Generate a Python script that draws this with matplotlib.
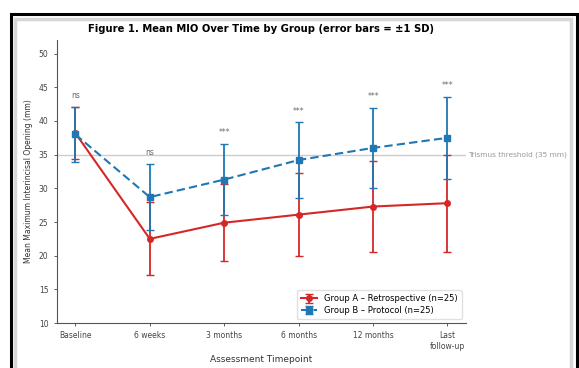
import matplotlib
matplotlib.use('agg')
import matplotlib.pyplot as plt
from matplotlib.patches import Rectangle

# Data
timepoints = ['Baseline', '6 weeks', '3 months', '6 months', '12 months', 'Last\nfollow-up']
group_a_mean = [38.2, 22.5, 24.9, 26.1, 27.3, 27.8]
group_a_sd = [3.8, 5.4, 5.7, 6.2, 6.8, 7.2]
group_b_mean = [38.0, 28.7, 31.3, 34.2, 36.0, 37.5]
group_b_sd = [4.1, 4.9, 5.3, 5.6, 5.9, 6.1]
sig_labels = ['ns', 'ns', '***', '***', '***', '***']
threshold = 35

fig = plt.figure(figsize=(5.79, 3.68), dpi=100)
ax = fig.add_axes([0.098, 0.122, 0.707, 0.769])

x = list(range(len(timepoints)))

ax.axhline(threshold, color='#cccccc', lw=1, zorder=1)
ax.text(5.27, threshold, 'Trismus threshold (35 mm)', fontsize=5.3, color='#999999',
        va='center', ha='left', clip_on=False)

ax.errorbar(x, group_a_mean, yerr=group_a_sd, color='#d62728', marker='o', ms=4,
            lw=1.5, elinewidth=1.3, capsize=3, capthick=1, ls='-',
            label='Group A \u2013 Retrospective (n=25)', zorder=3)
ax.errorbar(x, group_b_mean, yerr=group_b_sd, color='#1f77b4', marker='s', ms=4.5,
            lw=1.5, elinewidth=1.3, capsize=3, capthick=1, ls='--', dashes=(4, 2),
            label='Group B \u2013 Protocol (n=25)', zorder=4)

# significance marks above the upper error bar
for xi, m, s, lab in zip(x, group_b_mean, group_b_sd, sig_labels):
    top = max(m + s, group_a_mean[xi] + group_a_sd[xi])
    ax.text(xi, top + 1.0, lab, fontsize=5.5, color='#666666', ha='center', va='bottom')

ax.set_xlim(-0.25, 5.25)
ax.set_ylim(10, 52)
ax.set_yticks(range(10, 51, 5))
ax.set_xticks(x)
ax.set_xticklabels(timepoints)
ax.tick_params(labelsize=5.5, length=2.5, width=0.6, colors='#444444')
for side in ['top', 'right']:
    ax.spines[side].set_visible(False)
for side in ['left', 'bottom']:
    ax.spines[side].set_linewidth(0.8)
    ax.spines[side].set_color('#555555')

ax.set_xlabel('Assessment Timepoint', fontsize=6.5, color='#333333', labelpad=3)
ax.set_ylabel('Mean Maximum Interincisal Opening (mm)', fontsize=5.5, color='#333333', labelpad=4)
ax.set_title('Figure 1. Mean MIO Over Time by Group (error bars = \u00b11 SD)',
             fontsize=7.2, fontweight='bold', pad=6)

ax.legend(loc='lower right', fontsize=6, frameon=True, framealpha=0.9,
          edgecolor='#dddddd', handlelength=2.0, borderpad=0.5, labelspacing=0.3)

# page frame around the figure
fig.patches.append(Rectangle((11 / 579, -0.05), 566 / 579, 1.05 - 14 / 368,
                             transform=fig.transFigure, fill=False,
                             edgecolor='black', lw=2.2, zorder=0))
fig.patches.append(Rectangle((15 / 579, -0.05), 556 / 579, 1.05 - 19 / 368,
                             transform=fig.transFigure, fill=False,
                             edgecolor='#bbbbbb', lw=2.5, alpha=0.6, zorder=0))

fig.savefig('out.png', dpi=100)
